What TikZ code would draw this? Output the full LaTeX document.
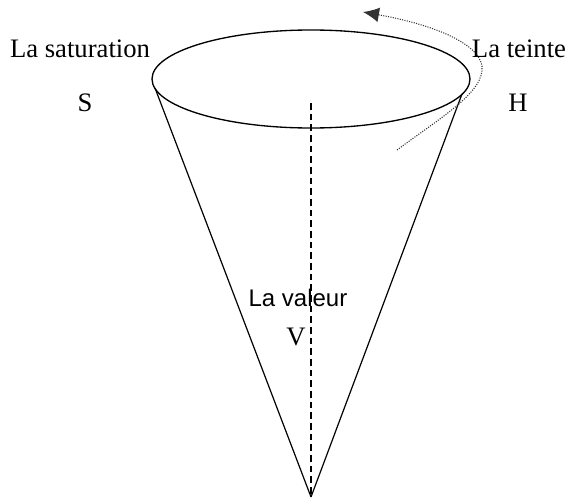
\documentclass[tikz,border=0pt]{standalone}
\usepackage{fontspec}
\setmainfont{Liberation Serif}
\newfontfamily\valfont{Liberation Sans}
\usetikzlibrary{arrows.meta,positioning,shapes.geometric}
\tikzset{
  rim/.style={draw, ellipse, line width=1pt, minimum width=238.5pt, minimum height=73.5pt, inner sep=0pt},
  side/.style={line width=0.9pt},
  axisline/.style={line width=0.9pt, dashed, dash pattern=on 5pt off 3pt},
  turn/.style={-{Latex[length=12pt,width=11pt]}, densely dotted, thick, black!80},
  lbl/.style={font=\fontsize{20}{24}\selectfont, inner sep=0pt, anchor=base},
  vallbl/.style={font=\valfont\fontsize{18}{22}\selectfont, inner sep=0pt, anchor=base}
}

\begin{document}
\begin{tikzpicture}[x=0.75pt, y=-0.75pt]
  \useasboundingbox (0,0) rectangle (568,503);
  \node[rim] (top) at (311,79) {};
  \coordinate (apex) at (311,497);
  \coordinate (axtop) at (311,103);
  \coordinate (lrim) at (155,88);
  \coordinate (rrim) at (462,94);
  \draw[side] (lrim) -- (apex);
  \draw[side] (rrim) -- (apex);
  \draw[axisline] (axtop) -- (apex);
  % rotation of the hue
  \coordinate (hfrom) at (397,150);
  \coordinate (hto) at (363,12);
  \draw[turn] (hfrom) .. controls (440,118) and (485,92) .. (482,66)
    .. controls (478,42) and (430,24) .. (hto);
  \node[lbl] (sat) at (80,58) {La saturation};
  \node[lbl] (s) at (85,112) {S};
  \node[lbl] (hue) at (519,58) {La teinte};
  \node[lbl] (h) at (518,112) {H};
  \node[vallbl] (val) at (298,306) {La valeur};
  \node[lbl] (v) at (296,345) {V};
\end{tikzpicture}
\end{document}
